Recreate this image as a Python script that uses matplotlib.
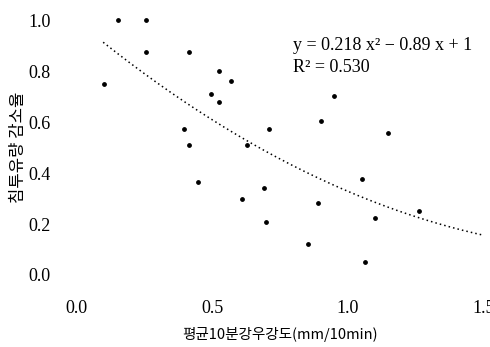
import numpy as np
import matplotlib.pyplot as plt

# 평균10분강우강도 vs 침투유량 감소율
rain = [0.154, 0.257, 0.257, 0.415, 0.103, 0.526, 0.569, 0.497, 0.526,
        0.397, 0.415, 0.628, 0.949, 0.900, 0.710, 1.147, 1.050, 0.449,
        0.610, 0.690, 0.700, 0.890, 0.853, 1.100, 1.063, 1.260]
ratio = [1.00, 1.00, 0.875, 0.875, 0.749, 0.80, 0.761, 0.71, 0.68,
         0.572, 0.51, 0.51, 0.702, 0.604, 0.573, 0.557, 0.376, 0.365,
         0.298, 0.341, 0.208, 0.282, 0.122, 0.224, 0.051, 0.25]
coef = [0.218, -0.89, 1.0]

xticks = [0.0, 0.5, 1.0, 1.5]
yticks = [0.0, 0.2, 0.4, 0.6, 0.8, 1.0]

num_font = 'Liberation Serif'
kor_font = ['Noto Sans CJK KR', 'DejaVu Sans']

fig = plt.figure(figsize=(4.9, 3.47), dpi=100)
ax = fig.add_axes([0.155, 0.2075, 0.833, 0.7345])

ax.scatter(rain, ratio, s=6, color='black', clip_on=False, zorder=3)

xfit = np.linspace(0.1, 1.5, 200)
ax.plot(xfit, np.polyval(coef, xfit), color='black', linestyle=(0, (1, 2.0)),
        linewidth=1.1, clip_on=False)

ax.set_xlim(0, 1.5)
ax.set_ylim(0, 1.0)
ax.set_xticks(xticks)
ax.set_yticks(yticks)
ax.set_xticklabels(['%.1f' % v for v in xticks], fontsize=13, family=num_font)
ax.set_yticklabels(['%.1f' % v for v in yticks], fontsize=13, family=num_font)
ax.tick_params(axis='x', length=0, pad=18)
ax.tick_params(axis='y', length=0, pad=18)
for s in ax.spines.values():
    s.set_visible(False)

ax.set_xlabel('평균10분강우강도(mm/10min)', fontsize=10.5, family=kor_font, labelpad=7)
ax.set_ylabel('침투유량 감소율', fontsize=12, family=kor_font, labelpad=1)

fig.text(0.598, 0.87, 'y = 0.218 x² − 0.89 x + 1', fontsize=13, family=num_font,
         va='center')
fig.text(0.598, 0.805, 'R² = 0.530', fontsize=13, family=num_font, va='center')

fig.savefig('out.png', dpi=100)
